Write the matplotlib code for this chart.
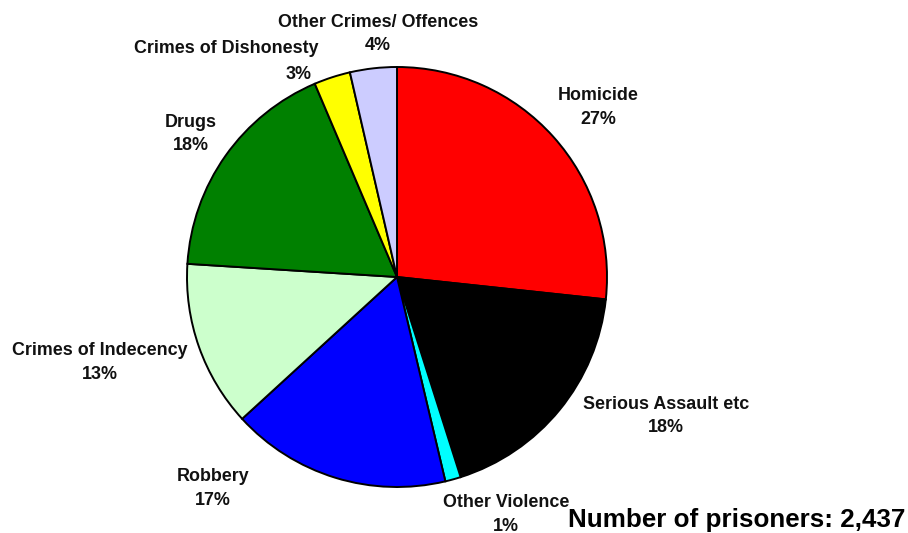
"""Pie chart of prisoners by offence group."""

import matplotlib

matplotlib.use("Agg")
import matplotlib.pyplot as plt

OFFENCES = [
    "Homicide",
    "Serious Assault etc",
    "Other Violence",
    "Robbery",
    "Crimes of Indecency",
    "Drugs",
    "Crimes of Dishonesty",
    "Other Crimes/ Offences",
]
SHARES = [26.7, 18.4, 1.2, 16.9, 12.8, 17.6, 2.8, 3.6]
COLOURS = [
    "#FF0000",
    "#000000",
    "#00FFFF",
    "#0000FF",
    "#CCFFCC",
    "#008000",
    "#FFFF00",
    "#CCCCFF",
]
TOTAL_PRISONERS = 2437

# label block centres in pie-radius units (pie centred on 0, 0)
LABEL_POS = {
    "Homicide": (0.960, 0.807),
    "Serious Assault etc": (1.281, -0.662),
    "Other Violence": (0.519, -1.129),
    "Robbery": (-0.876, -1.005),
    "Crimes of Indecency": (-1.414, -0.407),
    "Drugs": (-0.981, 0.681),
    "Crimes of Dishonesty": (-0.812, 1.030),
    "Other Crimes/ Offences": (-0.090, 1.157),
}
# the percentage normally sits centred under the name
PCT_SHIFT = {"Crimes of Dishonesty": (0.345, -0.01)}
HALF_GAP = 0.057

plt.rcParams["font.family"] = ["Liberation Sans", "DejaVu Sans"]

fig = plt.figure(figsize=(9.08, 5.33), dpi=100)
ax = fig.add_axes([0, 0, 1, 1])

ax.pie(
    SHARES,
    colors=COLOURS,
    startangle=90,
    counterclock=False,
    radius=1.0,
    center=(0, 0),
    wedgeprops={"edgecolor": "black", "linewidth": 1.4},
)

total = sum(SHARES)
label_style = dict(fontsize=12.9, fontweight="bold", ha="center", va="center",
                   color="#111111")
for name, share in zip(OFFENCES, SHARES):
    pct = f"{share / total * 100:.0f}%"
    x, y = LABEL_POS[name]
    dx, dy = PCT_SHIFT.get(name, (0.0, 0.0))
    ax.text(x, y + HALF_GAP, name, **label_style)
    ax.text(x + dx, y - HALF_GAP + dy, pct, **label_style)

fig.text(
    0.997,
    0.011,
    f"Number of prisoners: {TOTAL_PRISONERS:,}",
    fontsize=18.7,
    fontweight="bold",
    ha="right",
    va="baseline",
)

ax.set_xlim(-397 / 210, (908 - 397) / 210)
ax.set_ylim((277 - 533) / 210, 277 / 210)
ax.set_aspect("auto")
ax.axis("off")

fig.savefig("out.png", dpi=100, facecolor="white")
plt.close(fig)
